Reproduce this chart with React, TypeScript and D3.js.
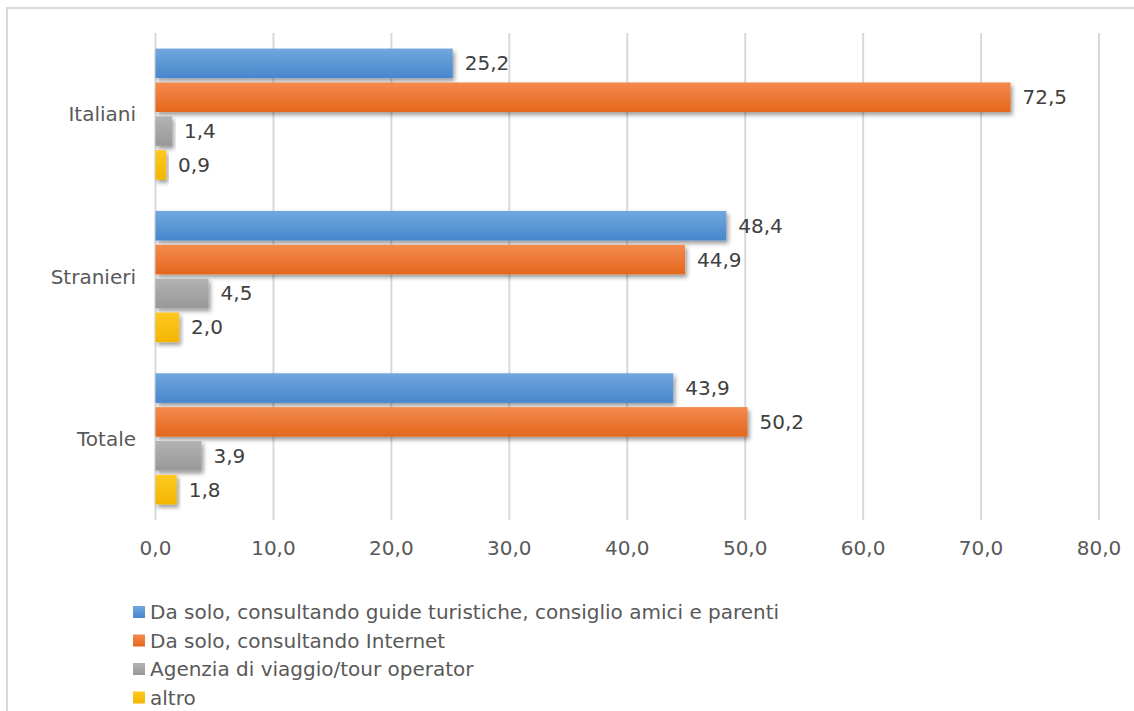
import React from "react";
import * as d3 from "d3";

const categories = ["Italiani", "Stranieri", "Totale"];
const seriesNames = [
  "Da solo, consultando guide turistiche, consiglio amici e parenti",
  "Da solo, consultando Internet",
  "Agenzia di viaggio/tour operator",
  "altro",
];
const guide = [25.2, 48.4, 43.9];
const internet = [72.5, 44.9, 50.2];
const agenzia = [1.4, 4.5, 3.9];
const altro = [0.9, 2.0, 1.8];
const seriesValues = [guide, internet, agenzia, altro];
const xTicks = [0, 10, 20, 30, 40, 50, 60, 70, 80];

const colors = [
  { top: "#72a7de", bottom: "#4787cc", solid: "#5B9BD5" },
  { top: "#f38a4e", bottom: "#e4671c", solid: "#ED7D31" },
  { top: "#b3b3b3", bottom: "#989898", solid: "#A5A5A5" },
  { top: "#ffc820", bottom: "#f2b600", solid: "#FFC000" },
];

const W = 1134;
const H = 711;
const FONT = "'DejaVu Sans', Verdana, sans-serif";
const FS = 20;
const fmt = (v: number) => v.toFixed(1).replace(".", ",");

export default function App() {
  const x = d3.scaleLinear().domain([0, 80]).range([155.5, 1099]);
  const y = d3.scaleBand<string>().domain(categories).range([33, 520]).padding(0);
  const sub = d3
    .scaleBand<number>()
    .domain([0, 1, 2, 3])
    .range([0, y.bandwidth()])
    .paddingInner(0.127)
    .paddingOuter(0.46);

  return (
    <svg
      width={W}
      height={H}
      style={{ position: "absolute", left: 0, top: 0, background: "#fff" }}
      fontFamily={FONT}
    >
      <defs>
        {colors.map((c, i) => (
          <linearGradient key={i} id={`g${i}`} x1="0" y1="0" x2="0" y2="1">
            <stop offset="0" stopColor={c.top} />
            <stop offset="1" stopColor={c.bottom} />
          </linearGradient>
        ))}
        <filter id="sh" x="-10%" y="-30%" width="130%" height="180%">
          <feDropShadow dx="2" dy="3" stdDeviation="2" floodColor="#000" floodOpacity="0.4" />
        </filter>
      </defs>
      <rect x={7} y={8} width={W + 20} height={H + 20} fill="#fff" stroke="#d9d9d9" strokeWidth={2} />
      {xTicks.map((t) => (
        <line key={t} x1={x(t)} x2={x(t)} y1={33} y2={520} stroke="#d9d9d9" strokeWidth={2} />
      ))}
      {categories.map((cat, ci) => (
        <g key={cat}>
          {seriesValues.map((vals, si) => (
            <rect
              key={si}
              x={x(0)}
              y={(y(cat) as number) + (sub(si) as number)}
              width={x(vals[ci]) - x(0)}
              height={sub.bandwidth()}
              fill={`url(#g${si})`}
              filter="url(#sh)"
            />
          ))}
        </g>
      ))}
      {categories.map((cat, ci) => (
        <g key={cat + "l"}>
          {seriesValues.map((vals, si) => (
            <text
              key={si}
              x={x(vals[ci]) + 12}
              y={(y(cat) as number) + (sub(si) as number) + sub.bandwidth() / 2}
              dy="0.35em"
              fontSize={FS}
              fill="#404040"
            >
              {fmt(vals[ci])}
            </text>
          ))}
          <text
            x={136}
            y={(y(cat) as number) + y.bandwidth() / 2}
            dy="0.35em"
            textAnchor="end"
            fontSize={FS}
            fill="#595959"
          >
            {cat}
          </text>
        </g>
      ))}
      {xTicks.map((t) => (
        <text key={t + "t"} x={x(t)} y={548} dy="0.35em" textAnchor="middle" fontSize={FS} fill="#595959">
          {fmt(t)}
        </text>
      ))}
      {seriesNames.map((name, i) => (
        <g key={name} transform={`translate(133, ${612 + i * 28.5})`}>
          <rect x={0} y={-6} width={12} height={12} fill={`url(#g${i})`} />
          <text x={17} y={0} dy="0.35em" fontSize={FS} fill="#595959">
            {name}
          </text>
        </g>
      ))}
    </svg>
  );
}
